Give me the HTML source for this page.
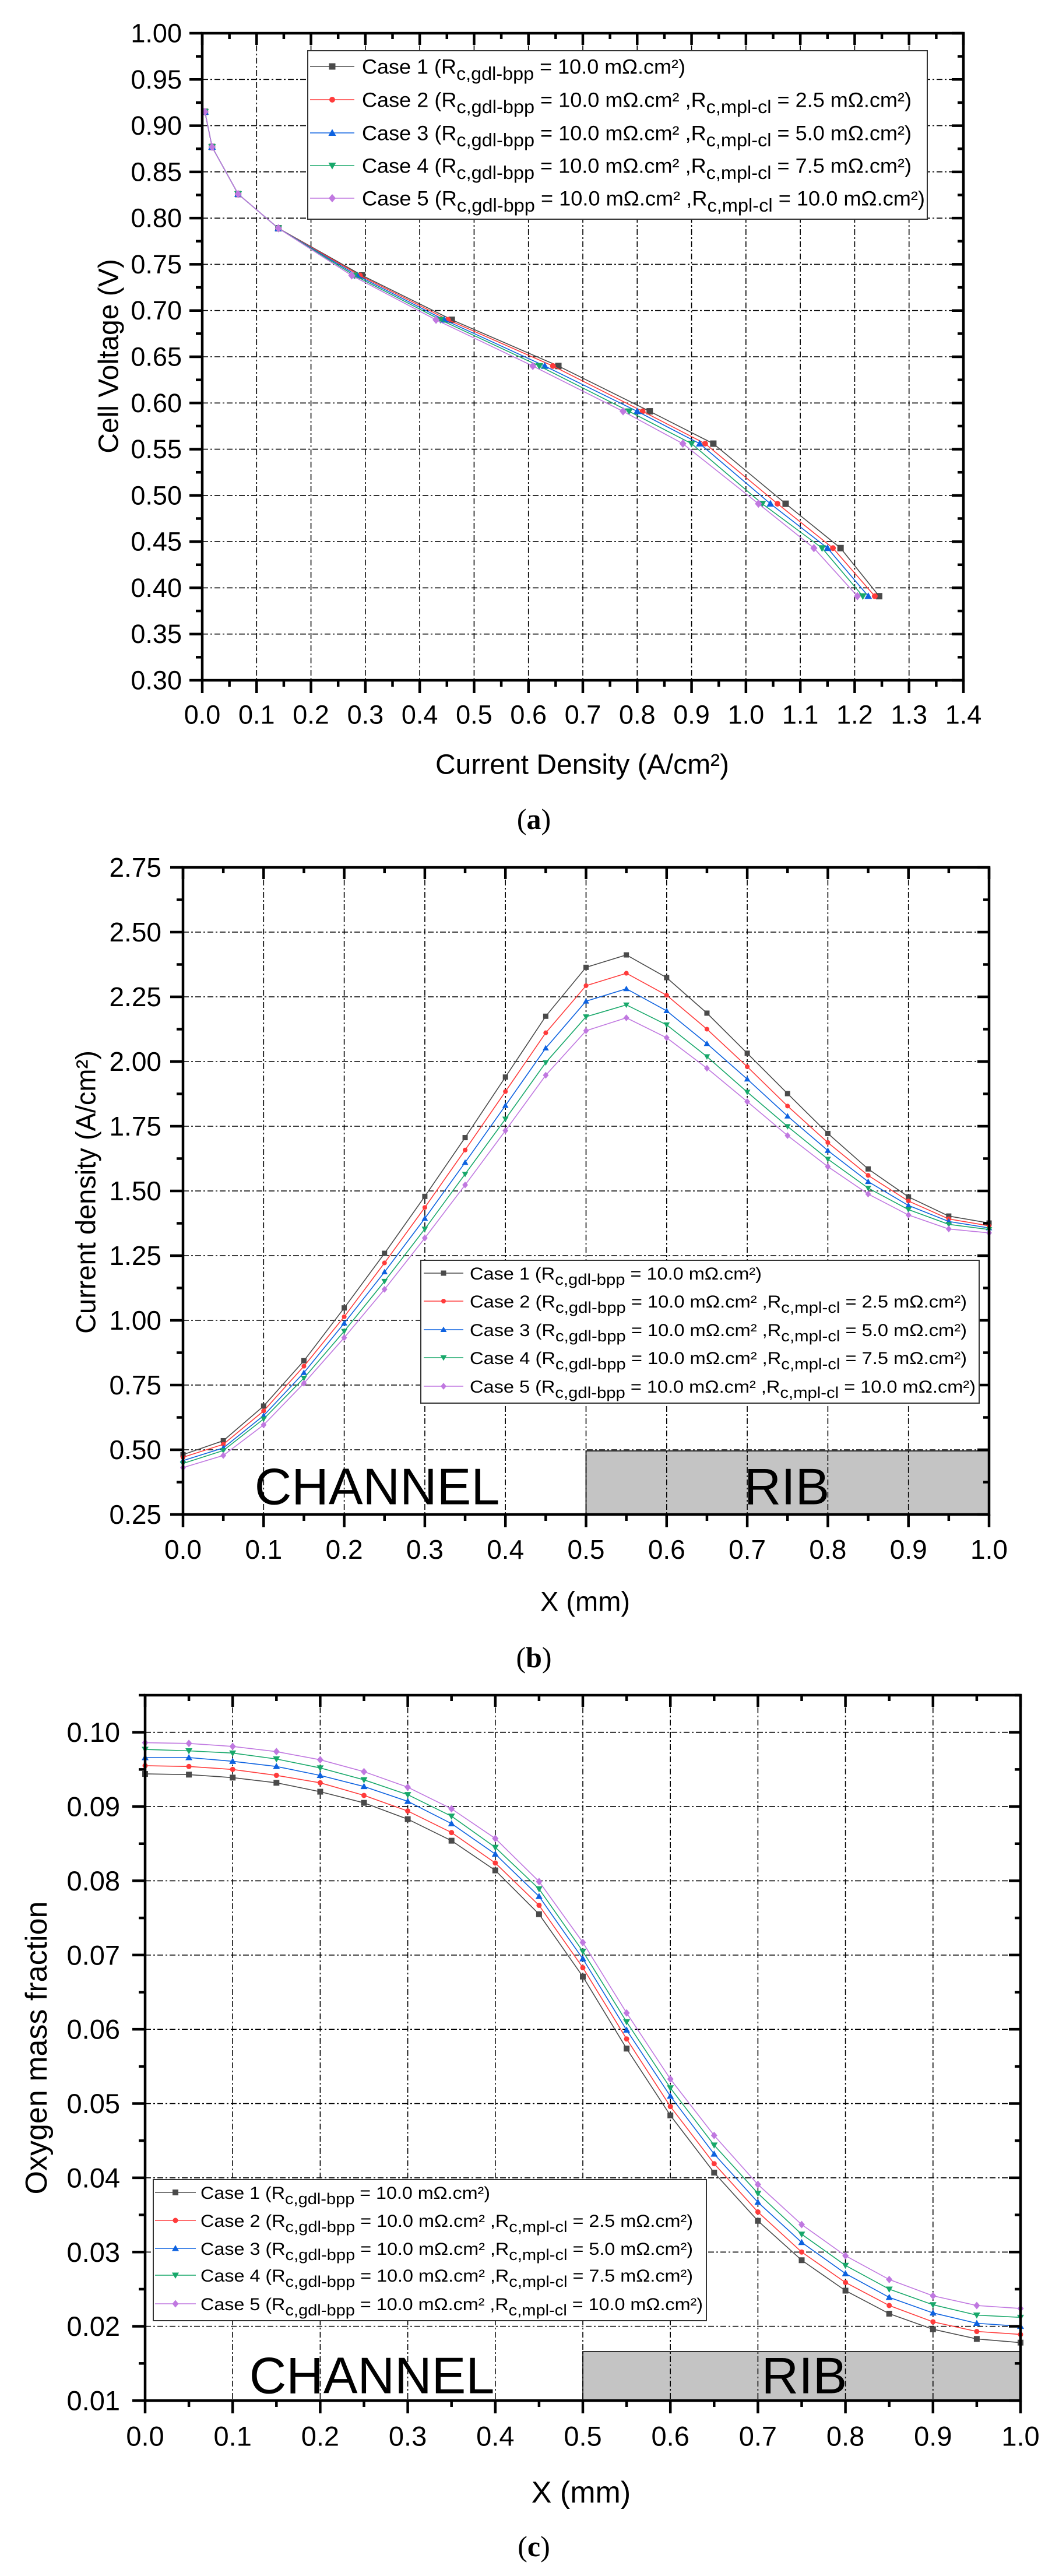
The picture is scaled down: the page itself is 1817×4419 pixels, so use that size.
<!DOCTYPE html>
<html><head><meta charset="utf-8"><style>
html,body{margin:0;padding:0;background:#fff;}
svg{display:block;font-family:"Liberation Sans",Arial,sans-serif;}
</style></head><body>
<svg id="fig" width="1817" height="4419" viewBox="0 0 1817 4419" xmlns="http://www.w3.org/2000/svg"></svg>
<script>
// ---------- Chart (a): polarization curve ----------
const aVoltage = [0.915, 0.877, 0.826, 0.789, 0.738, 0.690, 0.640, 0.591, 0.556, 0.491, 0.443, 0.391];
const aCase1 = [0.005, 0.018, 0.066, 0.140, 0.294, 0.459, 0.655, 0.823, 0.940, 1.073, 1.174, 1.245];
const aCase2 = [0.005, 0.018, 0.066, 0.140, 0.290, 0.452, 0.645, 0.810, 0.925, 1.058, 1.160, 1.237];
const aCase3 = [0.005, 0.018, 0.066, 0.140, 0.285, 0.445, 0.630, 0.800, 0.915, 1.045, 1.150, 1.225];
const aCase4 = [0.005, 0.018, 0.066, 0.140, 0.280, 0.438, 0.620, 0.785, 0.900, 1.030, 1.140, 1.215];
const aCase5 = [0.005, 0.018, 0.066, 0.140, 0.275, 0.430, 0.608, 0.774, 0.884, 1.023, 1.125, 1.205];
const aXTicks = ["0.0","0.1","0.2","0.3","0.4","0.5","0.6","0.7","0.8","0.9","1.0","1.1","1.2","1.3","1.4"];
const aYTicks = ["0.30","0.35","0.40","0.45","0.50","0.55","0.60","0.65","0.70","0.75","0.80","0.85","0.90","0.95","1.00"];

// ---------- Chart (b): current density along X ----------
const bX = [0,0.05,0.1,0.15,0.2,0.25,0.3,0.35,0.4,0.45,0.5,0.55,0.6,0.65,0.7,0.75,0.8,0.85,0.9,0.95,1.0];
const bCase1 = [0.481,0.535,0.669,0.844,1.048,1.259,1.479,1.706,1.940,2.175,2.364,2.412,2.324,2.187,2.032,1.876,1.722,1.585,1.477,1.403,1.376];
const bCase2 = [0.471,0.521,0.650,0.823,1.014,1.222,1.436,1.658,1.884,2.111,2.293,2.341,2.256,2.125,1.980,1.828,1.687,1.560,1.461,1.392,1.365];
const bCase3 = [0.458,0.507,0.632,0.798,0.989,1.187,1.394,1.610,1.830,2.052,2.233,2.281,2.196,2.069,1.932,1.789,1.656,1.536,1.444,1.382,1.357];
const bCase4 = [0.447,0.497,0.619,0.777,0.958,1.151,1.353,1.565,1.778,1.996,2.173,2.219,2.142,2.019,1.882,1.749,1.623,1.511,1.428,1.371,1.351];
const bCase5 = [0.431,0.478,0.596,0.757,0.933,1.120,1.318,1.523,1.733,1.947,2.119,2.169,2.092,1.974,1.845,1.714,1.594,1.488,1.407,1.353,1.338];
const bXTicks = ["0.0","0.1","0.2","0.3","0.4","0.5","0.6","0.7","0.8","0.9","1.0"];
const bYTicks = ["0.25","0.50","0.75","1.00","1.25","1.50","1.75","2.00","2.25","2.50","2.75"];

// ---------- Chart (c): oxygen mass fraction along X ----------
const cX = [0,0.05,0.1,0.15,0.2,0.25,0.3,0.35,0.4,0.45,0.5,0.55,0.6,0.65,0.7,0.75,0.8,0.85,0.9,0.95,1.0];
const cCase1 = [0.0944,0.0943,0.0939,0.0932,0.0920,0.0905,0.0883,0.0854,0.0814,0.0755,0.0671,0.0574,0.0484,0.0407,0.0342,0.0289,0.0248,0.0217,0.0196,0.0183,0.0178];
const cCase2 = [0.0955,0.0954,0.0950,0.0942,0.0932,0.0915,0.0894,0.0865,0.0824,0.0767,0.0683,0.0587,0.0496,0.0419,0.0354,0.0300,0.0259,0.0228,0.0206,0.0193,0.0189];
const cCase3 = [0.0966,0.0966,0.0961,0.0954,0.0942,0.0927,0.0907,0.0877,0.0836,0.0779,0.0695,0.0599,0.0510,0.0432,0.0367,0.0313,0.0271,0.0239,0.0218,0.0204,0.0200];
const cCase4 = [0.0977,0.0975,0.0972,0.0964,0.0952,0.0936,0.0916,0.0887,0.0845,0.0789,0.0705,0.0610,0.0521,0.0444,0.0379,0.0324,0.0282,0.0250,0.0229,0.0215,0.0212];
const cCase5 = [0.0986,0.0985,0.0981,0.0974,0.0963,0.0947,0.0926,0.0897,0.0857,0.0799,0.0717,0.0622,0.0533,0.0457,0.0391,0.0337,0.0295,0.0263,0.0241,0.0228,0.0224];
const cXTicks = ["0.0","0.1","0.2","0.3","0.4","0.5","0.6","0.7","0.8","0.9","1.0"];
const cYTicks = ["0.01","0.02","0.03","0.04","0.05","0.06","0.07","0.08","0.09","0.10"];

const caseColors = ["#4a4a4a","#ff3b3b","#0d62e0","#18a86a","#c078e0"];
const caseMarkers = ["square","circle","up","down","diamond"];
const caseLabels = [
  ["Case 1 (R","c,gdl-bpp"," = 10.0 m\u03A9.cm\u00B2)",null,null],
  ["Case 2 (R","c,gdl-bpp"," = 10.0 m\u03A9.cm\u00B2 ,R","c,mpl-cl"," = 2.5 m\u03A9.cm\u00B2)"],
  ["Case 3 (R","c,gdl-bpp"," = 10.0 m\u03A9.cm\u00B2 ,R","c,mpl-cl"," = 5.0 m\u03A9.cm\u00B2)"],
  ["Case 4 (R","c,gdl-bpp"," = 10.0 m\u03A9.cm\u00B2 ,R","c,mpl-cl"," = 7.5 m\u03A9.cm\u00B2)"],
  ["Case 5 (R","c,gdl-bpp"," = 10.0 m\u03A9.cm\u00B2 ,R","c,mpl-cl"," = 10.0 m\u03A9.cm\u00B2)"]
];

const NS = "http://www.w3.org/2000/svg";
const fig = document.getElementById("fig");
function mk(tag, attrs, parent){
  const e = document.createElementNS(NS, tag);
  for (const k in attrs) e.setAttribute(k, attrs[k]);
  (parent||fig).appendChild(e);
  return e;
}
function marker(g, type, x, y, s, color){
  let e;
  if (type==="square") e = mk("rect",{x:x-s/2,y:y-s/2,width:s,height:s,fill:color},g);
  else if (type==="circle") e = mk("circle",{cx:x,cy:y,r:s*0.45,fill:color},g);
  else if (type==="up") e = mk("polygon",{points:`${x},${y-s*0.6} ${x-s*0.6},${y+s*0.45} ${x+s*0.6},${y+s*0.45}`,fill:color},g);
  else if (type==="down") e = mk("polygon",{points:`${x},${y+s*0.6} ${x-s*0.6},${y-s*0.45} ${x+s*0.6},${y-s*0.45}`,fill:color},g);
  else e = mk("polygon",{points:`${x},${y-s*0.65} ${x+s*0.55},${y} ${x},${y+s*0.65} ${x-s*0.55},${y}`,fill:color},g);
  return e;
}

function chart(cfg){
  const g = mk("g",{});
  
  
  const sx = v => cfg.L + (v - cfg.x0)/(cfg.x1 - cfg.x0)*(cfg.R - cfg.L);
  const sy = v => cfg.B - (v - cfg.y0)/(cfg.y1 - cfg.y0)*(cfg.B - cfg.T);
  // rib
  if (cfg.rib){
    const rb = mk("rect",{x:sx(0.5),y:cfg.ribTop,width:cfg.R-sx(0.5),height:cfg.B-cfg.ribTop,fill:"#c4c4c4",stroke:"#333","stroke-width":2},g);
    
    
  }
  // grid
  const grid = mk("g",{stroke:"#000","stroke-width":1.6,"stroke-dasharray":"10,4,3,4",fill:"none"},g);
  
  
  cfg.xTicks.forEach(t=>{ const v=parseFloat(t); const x=sx(v); if(v>cfg.x0+1e-9&&v<cfg.x1-1e-9) mk("line",{x1:x,y1:cfg.T,x2:x,y2:cfg.B},grid);});
  cfg.yTicks.forEach(t=>{ const v=parseFloat(t); const y=sy(v); if(v>cfg.y0+1e-9&&v<cfg.y1-1e-9) mk("line",{x1:cfg.L,y1:y,x2:cfg.R,y2:y},grid);});
  // rib/channel labels
  if (cfg.rib){
    const ch = mk("text",{x:cfg.chX,y:cfg.chY,"font-size":cfg.ribFont,"text-anchor":"middle","dominant-baseline":"central",fill:"#000"},g);
    ch.textContent = "CHANNEL";
    
    
    const rl = mk("text",{x:cfg.ribX,y:cfg.chY,"font-size":cfg.ribFont,"text-anchor":"middle","dominant-baseline":"central",fill:"#000"},g);
    rl.textContent = "RIB";
    
    
  }
  // series
  cfg.series.forEach((s,i)=>{
    const sg = mk("g",{},g);
    
    
    const pts = s.xs.map((xv,j)=>`${sx(xv).toFixed(1)},${sy(s.ys[j]).toFixed(1)}`).join(" ");
    mk("polyline",{points:pts,fill:"none",stroke:caseColors[i],"stroke-width":1.6},sg);
    s.xs.forEach((xv,j)=>{
      const m = marker(sg, caseMarkers[i], sx(xv), sy(s.ys[j]), cfg.ms, caseColors[i]);
      
      
    });
  });
  // axes frame
  const ax = mk("g",{stroke:"#000","stroke-width":4.5,fill:"none"},g);
  
  
  mk("rect",{x:cfg.L,y:cfg.T,width:cfg.R-cfg.L,height:cfg.B-cfg.T},ax);
  // ticks x
  const xs0 = parseFloat(cfg.xTicks[0]), xstep = parseFloat(cfg.xTicks[1])-xs0;
  for (let k=0;k<=(cfg.xTicks.length-1)*2;k++){
    const v = xs0 + k*xstep/2, x = sx(v), maj = k%2===0;
    mk("line",{x1:x,y1:cfg.B,x2:x,y2:cfg.B+(maj?22:11)},ax);
    mk("line",{x1:x,y1:cfg.T,x2:x,y2:cfg.T+(maj?20:10)},ax);
  }
  const ys0 = parseFloat(cfg.yTicks[0]), ystep = parseFloat(cfg.yTicks[1])-ys0;
  const nMinor = Math.round((cfg.y1-ys0)/(ystep/2));
  for (let k=0;k<=nMinor;k++){
    const v = ys0 + k*ystep/2, y = sy(v), maj = k%2===0;
    mk("line",{x1:cfg.L,y1:y,x2:cfg.L-(maj?22:11),y2:y},ax);
    mk("line",{x1:cfg.R,y1:y,x2:cfg.R-(maj?20:10),y2:y},ax);
  }
  // tick labels
  cfg.xTicks.forEach(t=>{
    const tx = mk("text",{x:sx(parseFloat(t)),y:cfg.xLabY,"font-size":cfg.tickFont,"text-anchor":"middle","dominant-baseline":"central",fill:"#000"},g);
    tx.textContent = t;
    
    
  });
  cfg.yTicks.forEach(t=>{
    const ty = mk("text",{x:cfg.yLabX,y:sy(parseFloat(t)),"font-size":cfg.tickFont,"text-anchor":"end","dominant-baseline":"central",fill:"#000"},g);
    ty.textContent = t;
    
    
  });
  // axis titles
  const xt = mk("text",{x:cfg.xTitleX,y:cfg.xTitleY,"font-size":cfg.titleFont,"text-anchor":"middle","dominant-baseline":"central",fill:"#000"},g);
  xt.textContent = cfg.xTitle;
  
  
  const yt = mk("text",{x:cfg.yTitleX,y:cfg.yTitleY,"font-size":cfg.titleFont,"text-anchor":"middle","dominant-baseline":"central",fill:"#000",transform:`rotate(-90 ${cfg.yTitleX} ${cfg.yTitleY})`},g);
  yt.textContent = cfg.yTitle;
  
  
  const cap = mk("text",{x:916,y:cfg.capY,"font-size":50,"text-anchor":"middle","dominant-baseline":"central","font-family":"Liberation Serif, serif",fill:"#000"},g);
  cap.innerHTML = "(<tspan font-weight='bold'>"+cfg.cap+"</tspan>)";
  
  
  // legend
  const lg = mk("g",{},g);
  
  
  mk("rect",{x:cfg.lg.x,y:cfg.lg.y,width:cfg.lg.w,height:cfg.lg.h,fill:"#fff",stroke:"#333","stroke-width":2},lg);
  caseLabels.forEach((lab,i)=>{
    const ey = cfg.lg.rows[i];
    const le = mk("g",{},lg);
    
    
    mk("line",{x1:cfg.lg.l0,y1:ey,x2:cfg.lg.l1,y2:ey,stroke:caseColors[i],"stroke-width":1.6},le);
    marker(le, caseMarkers[i], (cfg.lg.l0+cfg.lg.l1)/2, ey, cfg.ms, caseColors[i]);
    const tx = mk("text",{x:cfg.lg.tx,y:ey+cfg.lg.fs*0.36,"font-size":cfg.lg.fs,fill:"#000",textLength:cfg.lg.widths[i],lengthAdjust:"spacingAndGlyphs"},le);
    let html = lab[0]+`<tspan dy="${cfg.lg.fs*0.3}" font-size="${cfg.lg.fs*0.9}">${lab[1]}</tspan><tspan dy="${-cfg.lg.fs*0.3}">${lab[2]}</tspan>`;
    if (lab[3]) html += `<tspan dy="${cfg.lg.fs*0.3}" font-size="${cfg.lg.fs*0.9}">${lab[3]}</tspan><tspan dy="${-cfg.lg.fs*0.3}">${lab[4]}</tspan>`;
    tx.innerHTML = html;
  });
}

chart({name:"chart-a-polarization",L:347,R:1653,T:57,B:1167,x0:0,x1:1.4,y0:0.30,y1:1.00,
  xTicks:aXTicks,yTicks:aYTicks,ms:11,tickFont:45,xLabY:1226,yLabX:312,titleFont:48,
  xTitle:"Current Density (A/cm\u00B2)",xTitleX:999,xTitleY:1312,yTitle:"Cell Voltage (V)",yTitleX:187,yTitleY:611,
  cap:"a",capY:1405,
  series:[{xs:aCase1,ys:aVoltage},{xs:aCase2,ys:aVoltage},{xs:aCase3,ys:aVoltage},{xs:aCase4,ys:aVoltage},{xs:aCase5,ys:aVoltage}],
  lg:{x:528,y:87,w:1063,h:289,rows:[114,171,228,284,340],l0:532,l1:608,tx:621,fs:35,widths:[555,943,943,943,966]}});

chart({name:"chart-b-current-density",L:314,R:1697,T:1488,B:2598,x0:0,x1:1.0,y0:0.25,y1:2.75,
  xTicks:bXTicks,yTicks:bYTicks,ms:9,tickFont:46,xLabY:2658,yLabX:277,titleFont:47,
  xTitle:"X (mm)",xTitleX:1004,xTitleY:2747,yTitle:"Current density (A/cm\u00B2)",yTitleX:147,yTitleY:2045,
  cap:"b",capY:2843,rib:true,ribTop:2489,chX:647,ribX:1350,chY:2550,ribFont:88,
  series:[{xs:bX,ys:bCase1},{xs:bX,ys:bCase2},{xs:bX,ys:bCase3},{xs:bX,ys:bCase4},{xs:bX,ys:bCase5}],
  lg:{x:722,y:2162,w:958,h:245,rows:[2184,2232,2281,2329,2378],l0:727,l1:795,tx:806,fs:30,widths:[501,853,853,853,868]}});

chart({name:"chart-c-oxygen-fraction",L:249,R:1751,T:2908,B:4118,x0:0,x1:1.0,y0:0.01,y1:0.105,
  xTicks:cXTicks,yTicks:cYTicks,ms:10,tickFont:47,xLabY:4179,yLabX:206,titleFont:52,
  xTitle:"X (mm)",xTitleX:997,xTitleY:4276,yTitle:"Oxygen mass fraction",yTitleX:63,yTitleY:3513,
  cap:"c",capY:4368,rib:true,ribTop:4034,chX:638,ribX:1380,chY:4075,ribFont:88,
  series:[{xs:cX,ys:cCase1},{xs:cX,ys:cCase2},{xs:cX,ys:cCase3},{xs:cX,ys:cCase4},{xs:cX,ys:cCase5}],
  lg:{x:263,y:3739,w:949,h:242,rows:[3761,3809,3857,3903,3952],l0:266,l1:336,tx:344,fs:30,widths:[497,845,845,845,862]}});
</script>
</body></html>
